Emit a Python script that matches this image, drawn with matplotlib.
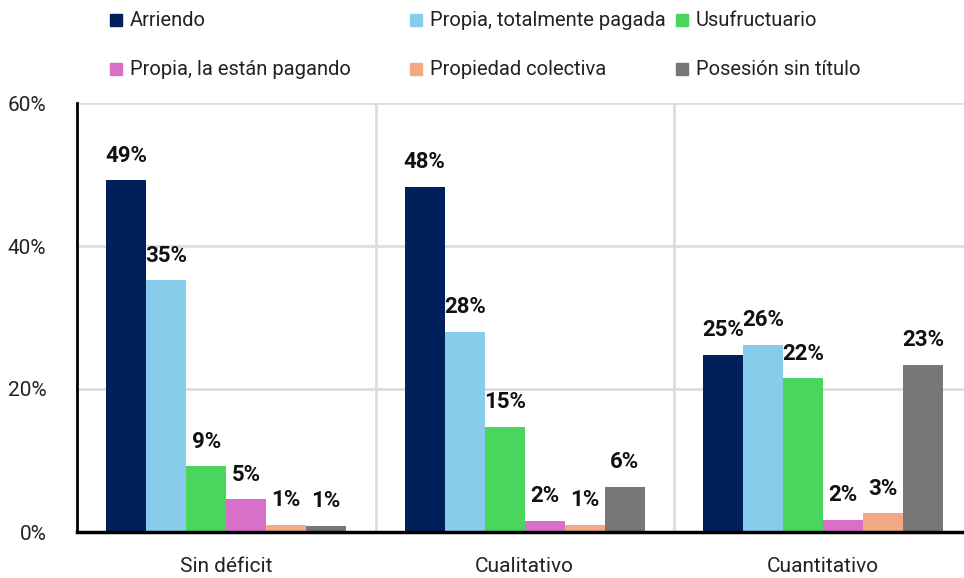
import numpy as np
import matplotlib.pyplot as plt
from matplotlib.patches import Rectangle

categories = ['Sin déficit', 'Cualitativo', 'Cuantitativo']
series = ['Arriendo', 'Propia, totalmente pagada', 'Usufructuario',
          'Propia, la están pagando', 'Propiedad colectiva', 'Posesión sin título']
colors = ['#00205C', '#87CDEB', '#4AD55E', '#D86FC8', '#F2AA85', '#777777']

arriendo = [49.2, 48.3, 24.8]
propia_pagada = [35.2, 28.0, 26.2]
usufructuario = [9.2, 14.7, 21.5]
propia_pagando = [4.6, 1.6, 1.7]
colectiva = [1.0, 1.0, 2.6]
posesion = [0.9, 6.3, 23.4]
values = [arriendo, propia_pagada, usufructuario, propia_pagando, colectiva, posesion]

yticks = [0, 20, 40, 60]

plt.rcParams['font.family'] = ['Roboto', 'DejaVu Sans']

W, H = 964, 578
fig = plt.figure(figsize=(W / 100, H / 100), dpi=100)
ax = fig.add_axes([77 / W, (H - 532) / H, 895.5 / W, 429 / H])

x = np.arange(len(categories))
bw = 40 / 298.5
for i, vals in enumerate(values):
    pos = x + (i - 2.5) * bw
    ax.bar(pos, vals, width=bw, color=colors[i], zorder=3)
    for px, v in zip(pos, vals):
        ax.text(px, v + 1.9, f'{v:.0f}%', ha='center', va='bottom',
                fontsize=16, fontweight='bold', color='#111111', zorder=4)

ax.set_xlim(-0.5, 2.5)
ax.set_ylim(0, 60)
ax.set_yticks(yticks)
ax.set_yticklabels([f'{t}%' for t in yticks])
ax.set_xticks(x)
ax.set_xticklabels(categories)
ax.tick_params(axis='both', length=0, labelsize=15, colors='#222222')
ax.tick_params(axis='y', pad=22)
ax.tick_params(axis='x', pad=18)

ax.grid(axis='y', color='#dddddd', linewidth=2, zorder=0)
for sep in [0.5, 1.5]:
    ax.axvline(sep, color='#dddddd', linewidth=2, zorder=0)

for s in ['top', 'right']:
    ax.spines[s].set_visible(False)
ax.spines['left'].set_linewidth(2)
ax.spines['bottom'].set_linewidth(2.5)
ax.spines['left'].set_zorder(5)
ax.spines['bottom'].set_zorder(5)

# legend drawn by hand: 3 columns, 2 rows
col_x = [110, 410, 676]
row_y = [20, 69]
for i, name in enumerate(series):
    cx = col_x[i % 3]
    cy = row_y[i // 3]
    fig.patches.append(Rectangle((cx / W, (H - cy - 6) / H), 12 / W, 12 / H,
                                 transform=fig.transFigure, color=colors[i]))
    fig.text((cx + 20) / W, (H - cy) / H, name, ha='left', va='center',
             fontsize=14.5, color='#222222')

plt.savefig('out.png', dpi=100)
